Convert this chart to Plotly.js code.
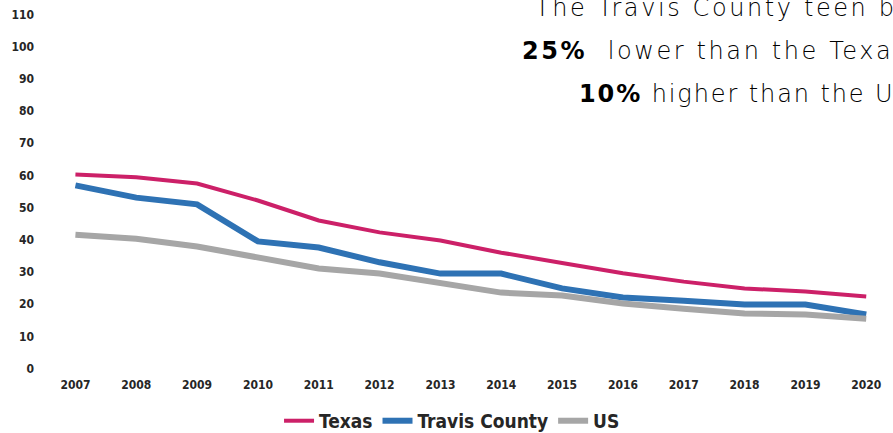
<!DOCTYPE html>
<html>
<head>
<meta charset="utf-8">
<script src="https://cdn.plot.ly/plotly-3.0.1.min.js"></script>
<style>html,body{margin:0;padding:0;background:#fff;}#chart{width:893px;height:433px;}
#chart .annotation-text{letter-spacing:2.6px;}
#chart g.annotation[data-index="2"] .annotation-text{letter-spacing:1.9px;}</style>
</head>
<body>
<div id="chart"></div>
<script>
const years = [2007,2008,2009,2010,2011,2012,2013,2014,2015,2016,2017,2018,2019,2020];
const texas = [60.3,59.4,57.5,52.2,46.0,42.3,39.8,36.0,32.8,29.6,27.0,24.9,23.9,22.4];
const travis = [56.9,53.1,51.0,39.5,37.6,33.0,29.5,29.5,24.9,22.1,21.1,19.9,19.9,16.8];
const us = [41.6,40.3,37.9,34.5,31.1,29.5,26.4,23.6,22.7,20.2,18.6,17.1,16.8,15.5];
const yTicks = [0,10,20,30,40,50,60,70,80,90,100,110];
const annLines = [
  "The Travis County teen b",
  "<b>25%</b>&nbsp; lower than the Texa",
  "<b>10%</b> higher than the U"
];

const tickFont = {family: "Liberation Sans Narrow, DejaVu Sans Condensed, sans-serif", size: 12, color: "#262626", weight: "bold"};
const annFont = {family: "DejaVu Sans, sans-serif", size: 24, color: "#000000", weight: 200};

const traces = [
  {x: years, y: texas, name: "Texas", mode: "lines", line: {color: "#cc2068", width: 4}},
  {x: years, y: travis, name: "Travis County", mode: "lines", line: {color: "#2e72b4", width: 6}},
  {x: years, y: us, name: "US", mode: "lines", line: {color: "#a6a6a6", width: 6}}
];

const layout = {
  width: 893, height: 433,
  margin: {l: 45, r: 0, t: 8, b: 58, autoexpand: false},
  paper_bgcolor: "#fff", plot_bgcolor: "#fff",
  showlegend: true,
  legend: {orientation: "h", x: 0.48, xanchor: "center", y: -0.125, yanchor: "middle",
    font: {family: "Liberation Sans Narrow, DejaVu Sans Condensed, sans-serif", size: 19, color: "#262626", weight: "bold"},
    itemwidth: 30, traceorder: "normal"},
  xaxis: {range: [2006.5, 2020.44], tickvals: years, ticktext: years.map(String),
    showgrid: false, zeroline: false, showline: false, ticks: "", tickfont: tickFont, ticklabelstandoff: 1},
  yaxis: {range: [-2, 112], tickvals: yTicks, ticktext: yTicks.map(String),
    showgrid: false, zeroline: false, showline: false, ticks: "", tickfont: tickFont, ticklabelstandoff: 10},
  annotations: [
    {text: annLines[0], xref: "paper", yref: "paper", x: (533-45)/848, y: 1 - (8-8)/367, xanchor: "left", yanchor: "middle", align: "left", showarrow: false, font: annFont},
    {text: annLines[1], xref: "paper", yref: "paper", x: (520-45)/848, y: 1 - (51-8)/367, xanchor: "left", yanchor: "middle", align: "left", showarrow: false, font: annFont},
    {text: annLines[2], xref: "paper", yref: "paper", x: (577-45)/848, y: 1 - (94-8)/367, xanchor: "left", yanchor: "middle", align: "left", showarrow: false, font: annFont}
  ]
};

Plotly.newPlot("chart", traces, layout, {displayModeBar: false, staticPlot: true});
</script>
</body>
</html>
